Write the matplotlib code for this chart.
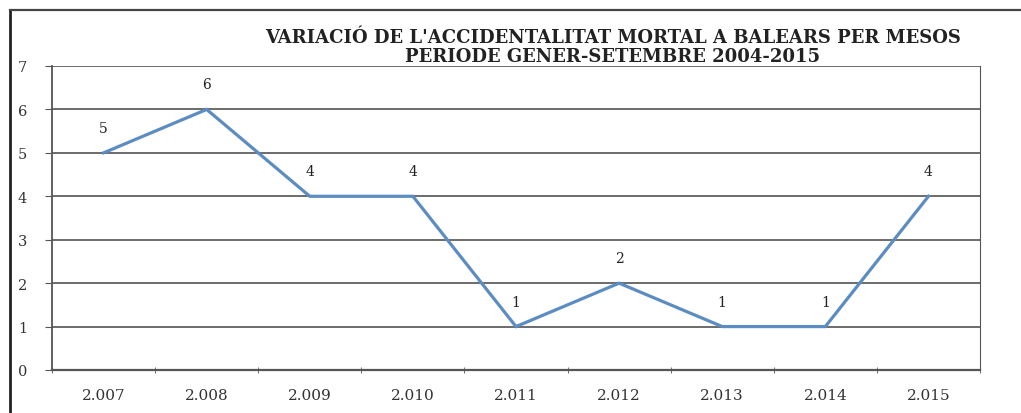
import matplotlib.pyplot as plt
import numpy as np

plt.rcParams['font.family'] = ['DejaVu Serif', 'Liberation Serif']

anys = ['2.007', '2.008', '2.009', '2.010', '2.011', '2.012', '2.013', '2.014', '2.015']
morts = [5, 6, 4, 4, 1, 2, 1, 1, 4]

fig = plt.figure(figsize=(10.21, 4.14), dpi=100)
W, H = 1021, 414

# marc exterior del grafic (surt per la dreta i per baix)
fig.add_artist(plt.Line2D([10 / W, 10 / W], [0, 1 - 11 / H], color='#222222', lw=2))
fig.add_artist(plt.Line2D([10 / W, 1], [1 - 11 / H, 1 - 11 / H], color='#444444', lw=1.6))

ax = fig.add_axes([52 / W, 1 - 371 / H, (980 - 52) / W, (371 - 67) / H])
x = np.arange(len(anys))
ax.plot(x, morts, color='#5B8CC2', lw=2.3, solid_joinstyle='miter')
for xi, v in zip(x, morts):
    ax.annotate(str(v), (xi, v), xytext=(0, 18), textcoords='offset points',
                ha='center', va='center', fontsize=10, color='#222222')

ax.set_xlim(-0.5, len(anys) - 0.5)
ax.set_ylim(0, 7)
ax.set_yticks(range(8))
ax.set_yticklabels([str(i) for i in range(8)], fontsize=10.5, color='#333333')
ax.yaxis.grid(True, color='#444444', lw=1.1)
ax.set_axisbelow(True)

ax.set_xticks(x)
ax.set_xticklabels(anys, fontsize=11, color='#333333')
ax.tick_params(axis='x', length=0, pad=13)
ax.set_xticks(np.arange(-0.5, len(anys), 1), minor=True)
ax.tick_params(axis='x', which='minor', length=5, direction='inout', color='#555555')
ax.tick_params(axis='y', length=5, color='#555555', pad=13)

for s in ['left', 'right', 'bottom']:
    ax.spines[s].set_color('#555555')
ax.spines['left'].set_linewidth(1.3)
ax.spines['bottom'].set_linewidth(1.6)
ax.spines['right'].set_linewidth(0.8)
ax.spines['top'].set_visible(False)

fig.text(613 / W, 1 - 38 / H, "VARIACIÓ DE L'ACCIDENTALITAT MORTAL A BALEARS PER MESOS",
         ha='center', va='center', fontsize=13, fontweight='bold', color='#222222')
fig.text(613 / W, 1 - 57 / H, "PERIODE GENER-SETEMBRE 2004-2015",
         ha='center', va='center', fontsize=13, fontweight='bold', color='#222222')

fig.savefig('out.png', dpi=100)
